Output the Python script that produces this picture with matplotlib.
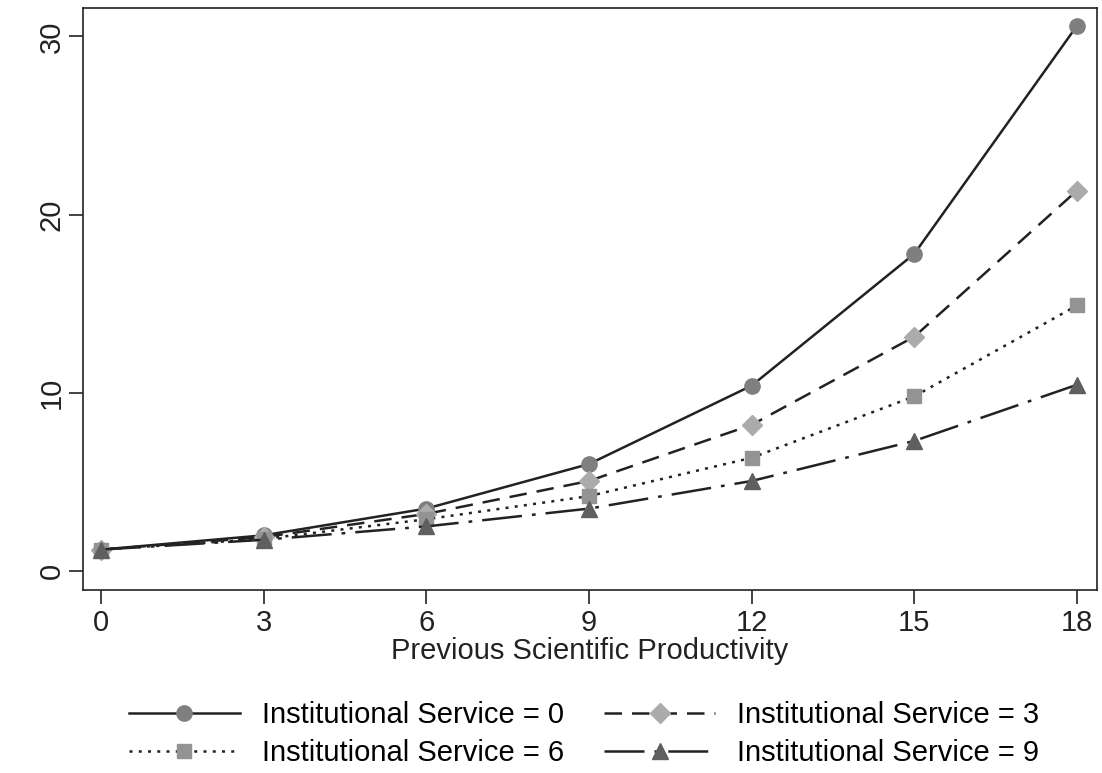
import numpy as np
import matplotlib
matplotlib.use('Agg')
import matplotlib.pyplot as plt

# ============ 数据 ============
productivity = [0, 3, 6, 9, 12, 15, 18]
service_0 = [1.2, 2.0, 3.5, 6.0, 10.4, 17.8, 30.6]
service_3 = [1.2, 1.9, 3.2, 5.05, 8.2, 13.15, 21.35]
service_6 = [1.2, 1.8, 2.9, 4.2, 6.35, 9.8, 14.9]
service_9 = [1.2, 1.75, 2.5, 3.5, 5.05, 7.3, 10.45]
labels = ["Institutional Service = 0", "Institutional Service = 3",
          "Institutional Service = 6", "Institutional Service = 9"]

plt.rcParams['font.family'] = ['Liberation Sans', 'DejaVu Sans']

fig = plt.figure(figsize=(11.02, 7.73), dpi=100)
ax = fig.add_axes([0.0753, 0.2367, 0.9202, 0.753])

line_col = '#222222'
styles = [
    dict(ls='-', marker='o', mfc='#7f7f7f', ms=11),
    dict(ls=(0, (7, 4)), marker='D', mfc='#ababab', ms=10),
    dict(ls=(0, (1.2, 2.5)), marker='s', mfc='#939393', ms=10),
    dict(ls=(0, (16, 4, 1.5, 4)), marker='^', mfc='#5f5f5f', ms=11),
]
series = [service_0, service_3, service_6, service_9]

# 逐条绘制
handles = []
for vals, st, lab in zip(series, styles, labels):
    h, = ax.plot(productivity, vals, color=line_col, lw=1.8,
                 linestyle=st['ls'], marker=st['marker'], markersize=st['ms'],
                 markerfacecolor=st['mfc'], markeredgecolor=st['mfc'], label=lab)
    handles.append(h)

ax.set_xlim(-0.33, 18.37)
ax.set_ylim(-1.07, 31.6)
ax.set_xticks(productivity)
ax.set_yticks([0, 10, 20, 30])
ax.tick_params(axis='both', direction='out', length=10, width=1.2, labelsize=21, colors='#222222')
ax.tick_params(axis='y', labelrotation=90, pad=2.5)
for lab in ax.get_yticklabels():
    lab.set_va('center')
for sp in ax.spines.values():
    sp.set_linewidth(1.2)
    sp.set_color('#222222')

ax.set_xlabel('Previous Scientific Productivity', fontsize=21, color='#222222', labelpad=0)

# 图例按行排列: 0,3 / 6,9
order = [0, 2, 1, 3]
fig.legend(handles=[handles[i] for i in order], labels=[labels[i] for i in order],
           loc='lower center', bbox_to_anchor=(0.53, -0.026), ncol=2,
           frameon=False, fontsize=21, handlelength=3.8, columnspacing=1.4,
           handletextpad=0.75, labelspacing=0.33)

plt.savefig('out.png', dpi=100)
plt.close()
